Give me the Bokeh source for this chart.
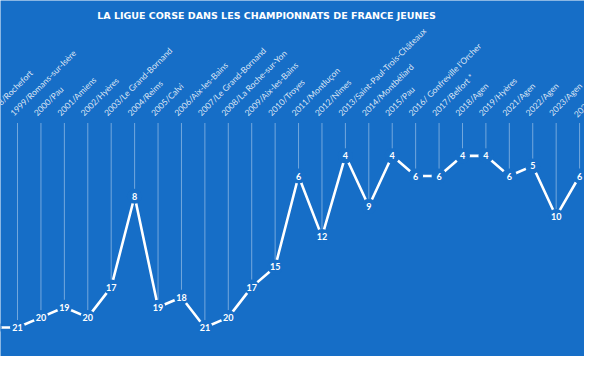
import math
from bokeh.plotting import figure
from bokeh.models import ColumnDataSource, Range1d, Label
from bokeh.core.properties import value
from bokeh.embed import file_html
from bokeh.resources import INLINE

# --- data -------------------------------------------------------------
editions = [
    "1998/Rochefort", "1999/Romans-sur-Isère", "2000/Pau", "2001/Amiens",
    "2002/Hyères", "2003/Le Grand-Bornand", "2004/Reims", "2005/Calvi",
    "2006/Aix-les-Bains", "2007/Le Grand-Bornand", "2008/La Roche-sur-Yon",
    "2009/Aix-les-Bains", "2010/Troyes", "2011/Montluçon", "2012/Nîmes",
    "2013/Saint-Paul-Trois-Châteaux", "2014/Montbéliard", "2015/Pau",
    "2016/ Gonfreville l'Orcher", "2017/Belfort  *", "2018/Agen",
    "2019/Hyères", "2021/Agen", "2022/Agen", "2023/Agen", "2024",
]
ranks = [21, 21, 20, 19, 20, 17, 8, 19, 18, 21, 20, 17, 15, 6, 12, 4, 9, 4,
         6, 6, 4, 4, 6, 5, 10, 6]
title_text = "LA LIGUE CORSE DANS LES CHAMPIONNATS DE FRANCE JEUNES"

BG = "#166ec7"
W, H = 584, 356

idx = list(range(len(editions)))
src = ColumnDataSource(dict(
    x=idx, y=ranks, lab=[str(r) for r in ranks], name=editions,
    ytop=[0.75] * len(idx), ytick=[0.25] * len(idx),
))

p = figure(width=W, height=H, output_backend="svg", toolbar_location=None,
           x_range=Range1d(0.273, 25.21), y_range=Range1d(23.87, -11.38),
           min_border=0, min_border_left=0, min_border_right=0,
           min_border_top=0, min_border_bottom=0)
p.axis.visible = False
p.grid.visible = False
p.outline_line_color = None
p.background_fill_color = BG
p.border_fill_color = BG

# vertical guide lines from tick labels down to points
p.segment(x0="x", y0="ytop", x1="x", y1="y", source=src,
          line_color="white", line_alpha=0.4, line_width=1)

# main line
p.line(x="x", y="y", source=src, line_color="white", line_width=2.6)

# gaps around the value labels
p.scatter(x="x", y="y", source=src, size=15, marker="circle",
          fill_color=BG, line_color=None)

# value labels
p.text(x="x", y="y", text="lab", source=src, text_color="white",
       text_font=value("Lato"), text_font_style="bold",
       text_font_size="9px", text_align="center", text_baseline="middle")

# rotated edition labels
p.text(x="x", y="ytick", text="name", source=src, text_color="white",
       text_alpha=0.85, text_font=value("Lato"), text_font_size="8.5px",
       angle=math.pi / 4, text_align="left", text_baseline="bottom",
       x_offset=-2)

# title
p.add_layout(Label(x=266, y=H - 14.5, x_units="screen", y_units="screen",
                   text=title_text, text_color="white",
                   text_font="DejaVu Sans", text_font_style="bold",
                   text_font_size="9.5px", text_align="center",
                   text_baseline="middle"))

open("out.html", "w").write(file_html(p, INLINE))
